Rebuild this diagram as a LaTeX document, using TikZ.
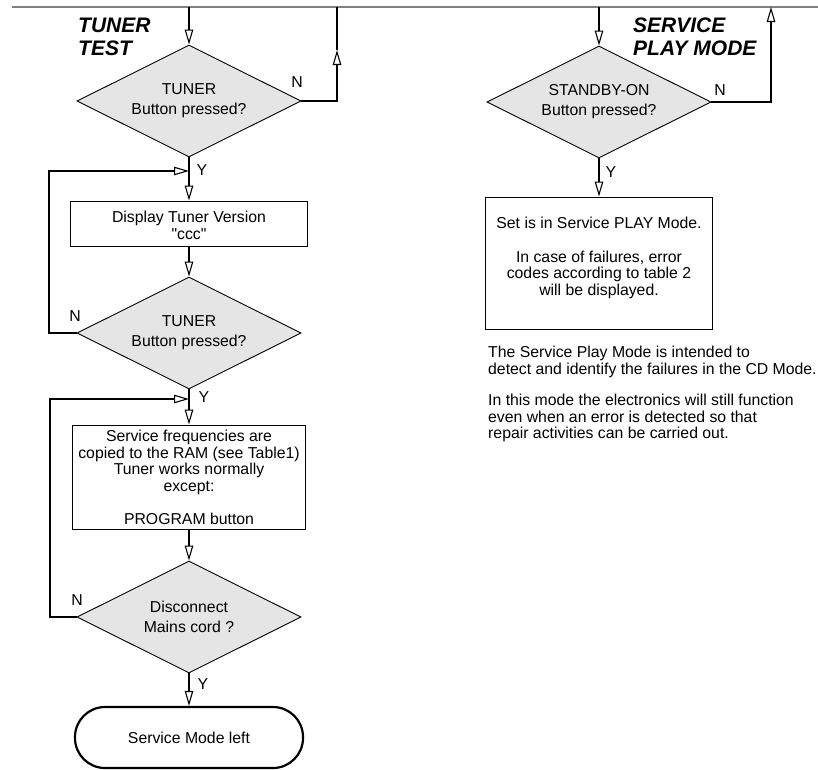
\documentclass[tikz,border=0pt]{standalone}
\usepackage{fontspec}
\setmainfont{Liberation Sans}[Ligatures=TeXOff]
\usetikzlibrary{arrows.meta,shapes.geometric}
\begin{document}
\begin{tikzpicture}[x=1pt,y=-1pt,
  every node/.style={font=\fontsize{15.8}{16.8}\selectfont, text=black},
  line/.style={draw=black, line width=1.1pt},
  topline/.style={draw=black!50, line width=1.5pt},
  arr/.style={line, -{Triangle[open,length=15pt,width=8.5pt,line width=1.1pt]}},
  decision/.style={diamond, draw=black, line width=0.9pt, fill=gray!20, minimum width=224pt, minimum height=112pt, inner sep=0pt, aspect=2, align=center, font=\fontsize{15.8}{20}\selectfont},
  procbox/.style={rectangle, draw=black, line width=0.9pt, inner sep=0pt, align=center},
  terminal/.style={rectangle, rounded corners=30pt, draw=black, line width=2.2pt, minimum width=228pt, minimum height=61pt},
  title/.style={font=\fontsize{21}{24}\selectfont\bfseries\itshape, anchor=base west, inner sep=0pt},
  lbl/.style={inner sep=0pt}]
\useasboundingbox (0,0) rectangle (818,769);

% titles
\node[title] (tt1) at (78,32) {TUNER};
\node[title] (tt2) at (78,55) {TEST};
\node[title] (st1) at (633,32) {SERVICE};
\node[title] (st2) at (633,55) {PLAY MODE};

% left flow
\node[decision] (d1) at (189,101) {TUNER\\Button pressed?};
\node[procbox, minimum width=237pt, minimum height=45pt] (b1) at (189,223.5) {};
\node[align=center, inner sep=0pt] (b1t) at (189,225.5) {Display Tuner Version\\"ccc"};
\node[decision] (d2) at (189,333) {TUNER\\Button pressed?};
\node[procbox, minimum width=233pt, minimum height=104pt] (b2) at (189,477) {Service frequencies are\\copied to the RAM (see Table1)\\Tuner works normally\\except:\\[15.5pt]PROGRAM button};
\node[decision] (d3) at (189,617) {Disconnect\\Mains cord ?};
\node[terminal] (t1) at (189,737.5) {Service Mode left};

% right flow
\node[decision] (d4) at (599,102) {STANDBY-ON\\Button pressed?};
\node[procbox, minimum width=227pt, minimum height=132pt] (b3) at (599,263) {};
\node[align=center, inner sep=0pt] (b3t) at (599,258) {Set is in Service PLAY Mode.\\[16.8pt]In case of failures, error\\codes according to table 2\\will be displayed.};
\node[align=left, anchor=north west, inner sep=0pt] (note) at (488,346) {The Service Play Mode is intended to\\detect and identify the failures in the CD Mode.\\[14pt]In this mode the electronics will still function\\even when an error is detected so that\\repair activities can be carried out.};

% coordinates
\coordinate (topL) at (12,7);
\coordinate (topR) at (818,7);
\coordinate (in1) at (189,7);
\coordinate (in2) at (599,7);
\coordinate (out1) at (337,7);
\coordinate (up1) at (337,50);
\coordinate (out2) at (771,7);
\coordinate (j1) at (189,171);
\coordinate (j2) at (189,399);
\coordinate (loop1) at (49,171);
\coordinate (loop2) at (50,399);

% connectors
\draw[topline] (topL) -- (topR);
\draw[arr] (in1) -- (d1.north);
\draw[arr] (d1.east) -| (up1);
\draw[line] (up1) -- (out1);
\draw[line] (d1.south) -- (j1);
\draw[arr] (j1) -- (b1.north);
\draw[arr] (d2.west) -| (loop1) -- (j1);
\draw[arr] (b1.south) -- (d2.north);
\draw[line] (d2.south) -- (j2);
\draw[arr] (j2) -- (b2.north);
\draw[arr] (b2.south) -- (d3.north);
\draw[arr] (d3.west) -| (loop2) -- (j2);
\draw[arr] (d3.south) -- (t1.north);
\draw[arr] (in2) -- (d4.north);
\draw[arr] (d4.east) -| (out2);
\draw[arr] (d4.south) -- (b3.north);

% labels
\node[lbl] (n1) at (297,82) {N};
\node[lbl] (y1) at (202,170) {Y};
\node[lbl] (n2) at (75,316) {N};
\node[lbl] (y2) at (204,397) {Y};
\node[lbl] (n3) at (77,600) {N};
\node[lbl] (y3) at (203,684) {Y};
\node[lbl] (n4) at (720,90) {N};
\node[lbl] (y4) at (611,172) {Y};
\end{tikzpicture}
\end{document}
